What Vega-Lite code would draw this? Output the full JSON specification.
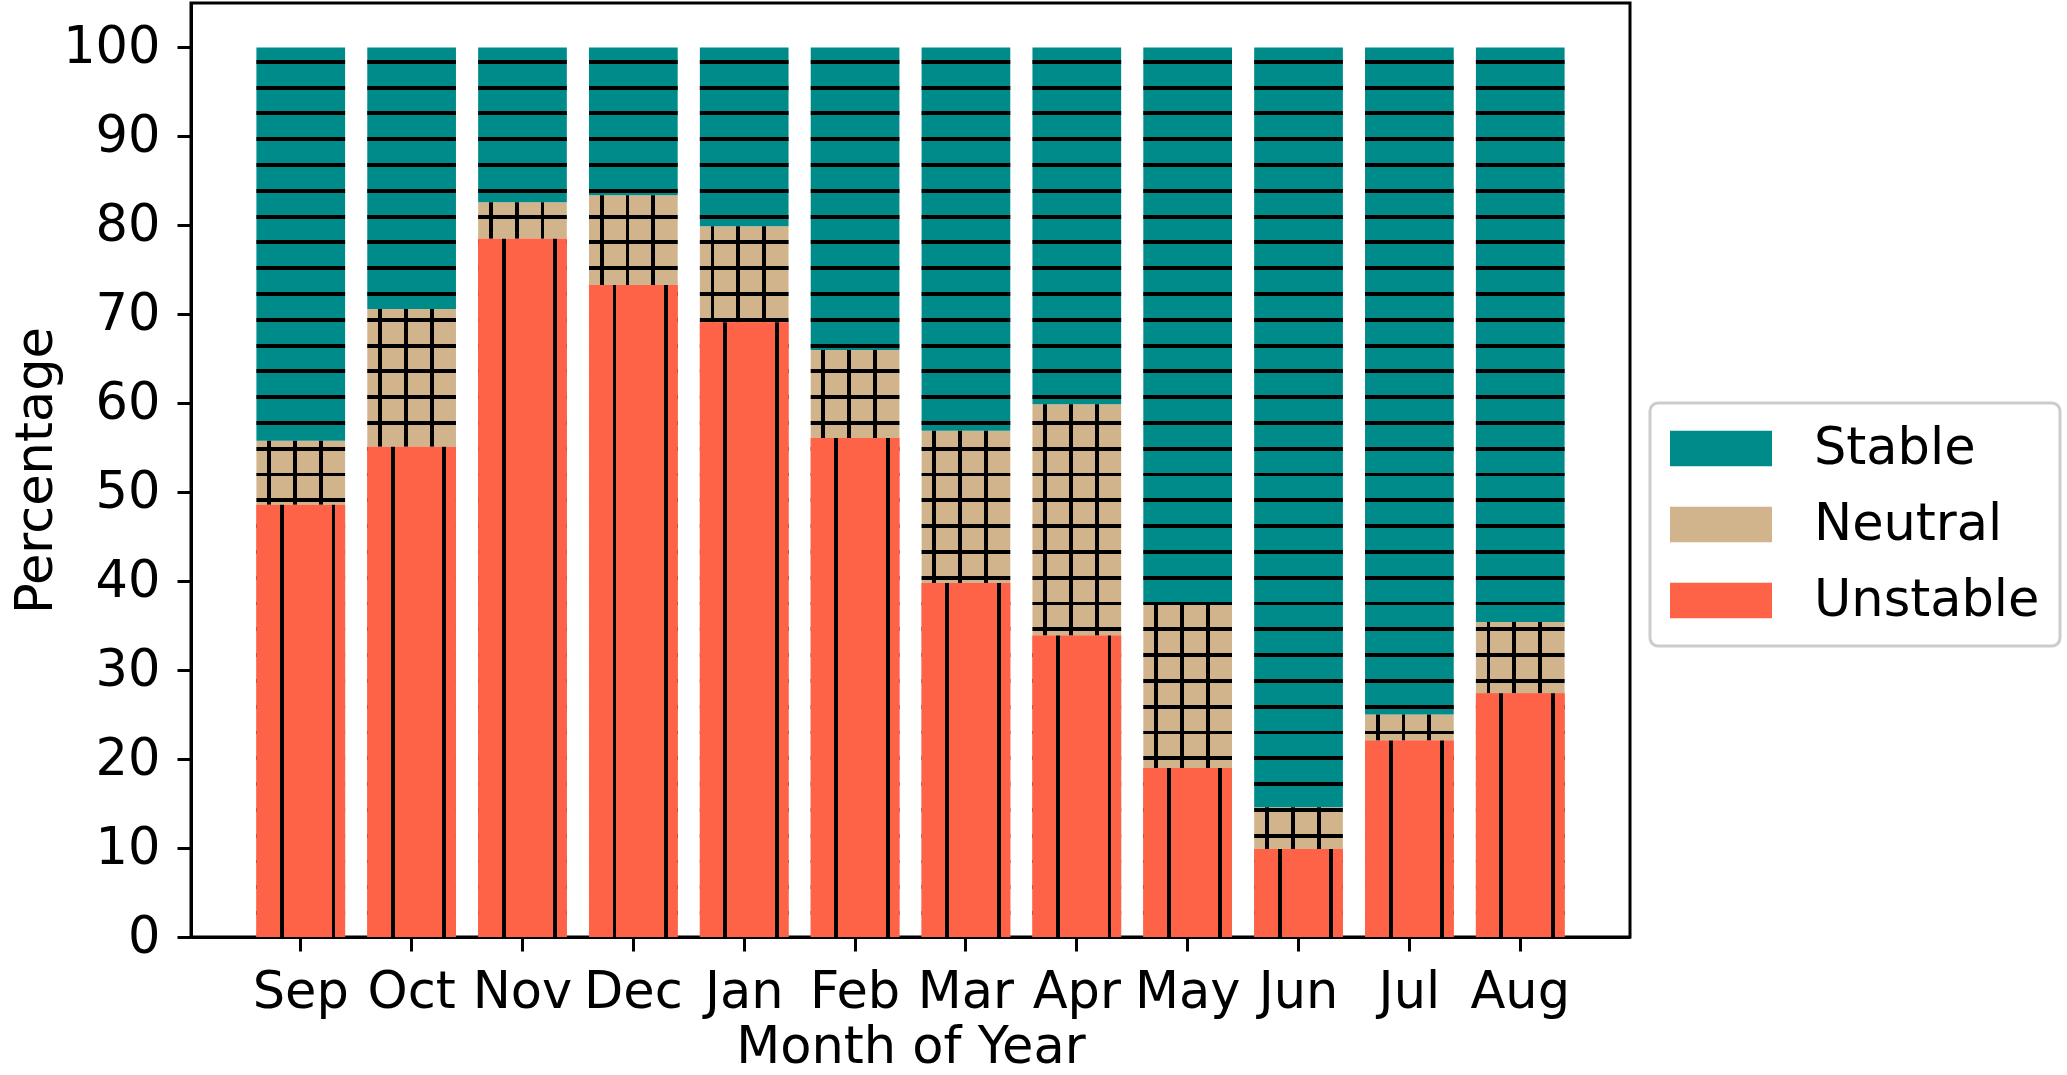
{
  "$schema": "https://vega.github.io/schema/vega-lite/v6.json",
  "width": 1439,
  "height": 934,
  "autosize": {"type": "none"},
  "padding": {"left": 191, "top": 3, "right": 437, "bottom": 138},
  "background": "white",
  "data": {
    "values": [
      {"month": "Sep", "category": "Unstable", "order": 1, "pct": 48.6},
      {"month": "Sep", "category": "Neutral", "order": 2, "pct": 7.2},
      {"month": "Sep", "category": "Stable", "order": 3, "pct": 44.2},
      {"month": "Oct", "category": "Unstable", "order": 1, "pct": 55.1},
      {"month": "Oct", "category": "Neutral", "order": 2, "pct": 15.5},
      {"month": "Oct", "category": "Stable", "order": 3, "pct": 29.4},
      {"month": "Nov", "category": "Unstable", "order": 1, "pct": 78.5},
      {"month": "Nov", "category": "Neutral", "order": 2, "pct": 4.1},
      {"month": "Nov", "category": "Stable", "order": 3, "pct": 17.4},
      {"month": "Dec", "category": "Unstable", "order": 1, "pct": 73.3},
      {"month": "Dec", "category": "Neutral", "order": 2, "pct": 10.1},
      {"month": "Dec", "category": "Stable", "order": 3, "pct": 16.6},
      {"month": "Jan", "category": "Unstable", "order": 1, "pct": 69.1},
      {"month": "Jan", "category": "Neutral", "order": 2, "pct": 10.8},
      {"month": "Jan", "category": "Stable", "order": 3, "pct": 20.1},
      {"month": "Feb", "category": "Unstable", "order": 1, "pct": 56.1},
      {"month": "Feb", "category": "Neutral", "order": 2, "pct": 9.9},
      {"month": "Feb", "category": "Stable", "order": 3, "pct": 34.0},
      {"month": "Mar", "category": "Unstable", "order": 1, "pct": 39.8},
      {"month": "Mar", "category": "Neutral", "order": 2, "pct": 17.1},
      {"month": "Mar", "category": "Stable", "order": 3, "pct": 43.1},
      {"month": "Apr", "category": "Unstable", "order": 1, "pct": 33.9},
      {"month": "Apr", "category": "Neutral", "order": 2, "pct": 26.0},
      {"month": "Apr", "category": "Stable", "order": 3, "pct": 40.1},
      {"month": "May", "category": "Unstable", "order": 1, "pct": 19.0},
      {"month": "May", "category": "Neutral", "order": 2, "pct": 18.4},
      {"month": "May", "category": "Stable", "order": 3, "pct": 62.6},
      {"month": "Jun", "category": "Unstable", "order": 1, "pct": 9.9},
      {"month": "Jun", "category": "Neutral", "order": 2, "pct": 4.7},
      {"month": "Jun", "category": "Stable", "order": 3, "pct": 85.4},
      {"month": "Jul", "category": "Unstable", "order": 1, "pct": 22.1},
      {"month": "Jul", "category": "Neutral", "order": 2, "pct": 2.9},
      {"month": "Jul", "category": "Stable", "order": 3, "pct": 75.0},
      {"month": "Aug", "category": "Unstable", "order": 1, "pct": 27.4},
      {"month": "Aug", "category": "Neutral", "order": 2, "pct": 8.0},
      {"month": "Aug", "category": "Stable", "order": 3, "pct": 64.6}
    ]
  },
  "transform": [
    {"stack": "pct", "groupby": ["month"], "sort": [{"field": "order", "order": "ascending"}], "as": ["y0", "y1"]}
  ],
  "encoding": {
    "x": {
      "field": "month",
      "type": "nominal",
      "sort": ["Sep", "Oct", "Nov", "Dec", "Jan", "Feb", "Mar", "Apr", "May", "Jun", "Jul", "Aug"],
      "scale": {"paddingInner": 0.2, "paddingOuter": 0.59},
      "title": "Month of Year"
    }
  },
  "layer": [
    {
      "mark": {"type": "bar", "strokeWidth": 0},
      "encoding": {
        "y": {"field": "y1", "type": "quantitative", "scale": {"domain": [0, 105], "nice": false}, "title": "Percentage", "axis": {"values": [0, 10, 20, 30, 40, 50, 60, 70, 80, 90, 100]}},
        "y2": {"field": "y0"},
        "color": {
          "field": "category",
          "type": "nominal",
          "scale": {"domain": ["Stable", "Neutral", "Unstable"], "range": ["#008B8B", "#D2B48C", "#FF6347"]},
          "legend": {"title": null}
        }
      }
    },
    {
      "transform": [{"filter": "datum.category === 'Stable'"}],
      "mark": {
        "type": "bar",
        "strokeWidth": 0,
        "fill": {
          "gradient": "linear", "x1": 0, "y1": 0, "x2": 0, "y2": 1,
          "stops": [
            {"offset": 0, "color": "rgba(0,0,0,0)"},
            {"offset": 0.0139, "color": "rgba(0,0,0,0)"}, {"offset": 0.0139, "color": "#000"}, {"offset": 0.0183, "color": "#000"}, {"offset": 0.0183, "color": "rgba(0,0,0,0)"},
            {"offset": 0.0429, "color": "rgba(0,0,0,0)"}, {"offset": 0.0429, "color": "#000"}, {"offset": 0.0473, "color": "#000"}, {"offset": 0.0473, "color": "rgba(0,0,0,0)"},
            {"offset": 0.0719, "color": "rgba(0,0,0,0)"}, {"offset": 0.0719, "color": "#000"}, {"offset": 0.0763, "color": "#000"}, {"offset": 0.0763, "color": "rgba(0,0,0,0)"},
            {"offset": 0.1009, "color": "rgba(0,0,0,0)"}, {"offset": 0.1009, "color": "#000"}, {"offset": 0.1053, "color": "#000"}, {"offset": 0.1053, "color": "rgba(0,0,0,0)"},
            {"offset": 0.1299, "color": "rgba(0,0,0,0)"}, {"offset": 0.1299, "color": "#000"}, {"offset": 0.1343, "color": "#000"}, {"offset": 0.1343, "color": "rgba(0,0,0,0)"},
            {"offset": 0.1589, "color": "rgba(0,0,0,0)"}, {"offset": 0.1589, "color": "#000"}, {"offset": 0.1633, "color": "#000"}, {"offset": 0.1633, "color": "rgba(0,0,0,0)"},
            {"offset": 0.1879, "color": "rgba(0,0,0,0)"}, {"offset": 0.1879, "color": "#000"}, {"offset": 0.1923, "color": "#000"}, {"offset": 0.1923, "color": "rgba(0,0,0,0)"},
            {"offset": 0.2169, "color": "rgba(0,0,0,0)"}, {"offset": 0.2169, "color": "#000"}, {"offset": 0.2213, "color": "#000"}, {"offset": 0.2213, "color": "rgba(0,0,0,0)"},
            {"offset": 0.2459, "color": "rgba(0,0,0,0)"}, {"offset": 0.2459, "color": "#000"}, {"offset": 0.2503, "color": "#000"}, {"offset": 0.2503, "color": "rgba(0,0,0,0)"},
            {"offset": 0.2749, "color": "rgba(0,0,0,0)"}, {"offset": 0.2749, "color": "#000"}, {"offset": 0.2793, "color": "#000"}, {"offset": 0.2793, "color": "rgba(0,0,0,0)"},
            {"offset": 0.3039, "color": "rgba(0,0,0,0)"}, {"offset": 0.3039, "color": "#000"}, {"offset": 0.3083, "color": "#000"}, {"offset": 0.3083, "color": "rgba(0,0,0,0)"},
            {"offset": 0.3329, "color": "rgba(0,0,0,0)"}, {"offset": 0.3329, "color": "#000"}, {"offset": 0.3373, "color": "#000"}, {"offset": 0.3373, "color": "rgba(0,0,0,0)"},
            {"offset": 0.3619, "color": "rgba(0,0,0,0)"}, {"offset": 0.3619, "color": "#000"}, {"offset": 0.3663, "color": "#000"}, {"offset": 0.3663, "color": "rgba(0,0,0,0)"},
            {"offset": 0.3909, "color": "rgba(0,0,0,0)"}, {"offset": 0.3909, "color": "#000"}, {"offset": 0.3953, "color": "#000"}, {"offset": 0.3953, "color": "rgba(0,0,0,0)"},
            {"offset": 0.4199, "color": "rgba(0,0,0,0)"}, {"offset": 0.4199, "color": "#000"}, {"offset": 0.4243, "color": "#000"}, {"offset": 0.4243, "color": "rgba(0,0,0,0)"},
            {"offset": 0.4489, "color": "rgba(0,0,0,0)"}, {"offset": 0.4489, "color": "#000"}, {"offset": 0.4533, "color": "#000"}, {"offset": 0.4533, "color": "rgba(0,0,0,0)"},
            {"offset": 0.4779, "color": "rgba(0,0,0,0)"}, {"offset": 0.4779, "color": "#000"}, {"offset": 0.4823, "color": "#000"}, {"offset": 0.4823, "color": "rgba(0,0,0,0)"},
            {"offset": 0.5069, "color": "rgba(0,0,0,0)"}, {"offset": 0.5069, "color": "#000"}, {"offset": 0.5113, "color": "#000"}, {"offset": 0.5113, "color": "rgba(0,0,0,0)"},
            {"offset": 0.5359, "color": "rgba(0,0,0,0)"}, {"offset": 0.5359, "color": "#000"}, {"offset": 0.5403, "color": "#000"}, {"offset": 0.5403, "color": "rgba(0,0,0,0)"},
            {"offset": 0.5649, "color": "rgba(0,0,0,0)"}, {"offset": 0.5649, "color": "#000"}, {"offset": 0.5693, "color": "#000"}, {"offset": 0.5693, "color": "rgba(0,0,0,0)"},
            {"offset": 0.5939, "color": "rgba(0,0,0,0)"}, {"offset": 0.5939, "color": "#000"}, {"offset": 0.5983, "color": "#000"}, {"offset": 0.5983, "color": "rgba(0,0,0,0)"},
            {"offset": 0.6229, "color": "rgba(0,0,0,0)"}, {"offset": 0.6229, "color": "#000"}, {"offset": 0.6273, "color": "#000"}, {"offset": 0.6273, "color": "rgba(0,0,0,0)"},
            {"offset": 0.6519, "color": "rgba(0,0,0,0)"}, {"offset": 0.6519, "color": "#000"}, {"offset": 0.6563, "color": "#000"}, {"offset": 0.6563, "color": "rgba(0,0,0,0)"},
            {"offset": 0.6809, "color": "rgba(0,0,0,0)"}, {"offset": 0.6809, "color": "#000"}, {"offset": 0.6853, "color": "#000"}, {"offset": 0.6853, "color": "rgba(0,0,0,0)"},
            {"offset": 0.7099, "color": "rgba(0,0,0,0)"}, {"offset": 0.7099, "color": "#000"}, {"offset": 0.7143, "color": "#000"}, {"offset": 0.7143, "color": "rgba(0,0,0,0)"},
            {"offset": 0.7389, "color": "rgba(0,0,0,0)"}, {"offset": 0.7389, "color": "#000"}, {"offset": 0.7433, "color": "#000"}, {"offset": 0.7433, "color": "rgba(0,0,0,0)"},
            {"offset": 0.7679, "color": "rgba(0,0,0,0)"}, {"offset": 0.7679, "color": "#000"}, {"offset": 0.7723, "color": "#000"}, {"offset": 0.7723, "color": "rgba(0,0,0,0)"},
            {"offset": 0.7969, "color": "rgba(0,0,0,0)"}, {"offset": 0.7969, "color": "#000"}, {"offset": 0.8013, "color": "#000"}, {"offset": 0.8013, "color": "rgba(0,0,0,0)"},
            {"offset": 0.8259, "color": "rgba(0,0,0,0)"}, {"offset": 0.8259, "color": "#000"}, {"offset": 0.8303, "color": "#000"}, {"offset": 0.8303, "color": "rgba(0,0,0,0)"},
            {"offset": 0.8549, "color": "rgba(0,0,0,0)"}, {"offset": 0.8549, "color": "#000"}, {"offset": 0.8593, "color": "#000"}, {"offset": 0.8593, "color": "rgba(0,0,0,0)"},
            {"offset": 0.8839, "color": "rgba(0,0,0,0)"}, {"offset": 0.8839, "color": "#000"}, {"offset": 0.8883, "color": "#000"}, {"offset": 0.8883, "color": "rgba(0,0,0,0)"},
            {"offset": 0.9129, "color": "rgba(0,0,0,0)"}, {"offset": 0.9129, "color": "#000"}, {"offset": 0.9173, "color": "#000"}, {"offset": 0.9173, "color": "rgba(0,0,0,0)"},
            {"offset": 0.9419, "color": "rgba(0,0,0,0)"}, {"offset": 0.9419, "color": "#000"}, {"offset": 0.9463, "color": "#000"}, {"offset": 0.9463, "color": "rgba(0,0,0,0)"},
            {"offset": 0.9709, "color": "rgba(0,0,0,0)"}, {"offset": 0.9709, "color": "#000"}, {"offset": 0.9753, "color": "#000"}, {"offset": 0.9753, "color": "rgba(0,0,0,0)"},
            {"offset": 1, "color": "rgba(0,0,0,0)"}
          ]
        }
      },
      "encoding": {
        "y": {"field": "y1", "type": "quantitative", "scale": {"domain": [0, 105], "nice": false}, "title": "Percentage"},
        "y2": {"datum": 0}
      }
    },
    {
      "transform": [{"filter": "datum.category === 'Neutral'"}],
      "mark": {
        "type": "bar",
        "strokeWidth": 0,
        "fill": {
          "gradient": "linear", "x1": 0, "y1": 0, "x2": 1, "y2": 0,
          "stops": [
            {"offset": 0, "color": "rgba(0,0,0,0)"},
            {"offset": 0.12, "color": "rgba(0,0,0,0)"}, {"offset": 0.12, "color": "#000"}, {"offset": 0.164, "color": "#000"}, {"offset": 0.164, "color": "rgba(0,0,0,0)"},
            {"offset": 0.412, "color": "rgba(0,0,0,0)"}, {"offset": 0.412, "color": "#000"}, {"offset": 0.456, "color": "#000"}, {"offset": 0.456, "color": "rgba(0,0,0,0)"},
            {"offset": 0.704, "color": "rgba(0,0,0,0)"}, {"offset": 0.704, "color": "#000"}, {"offset": 0.748, "color": "#000"}, {"offset": 0.748, "color": "rgba(0,0,0,0)"},
            {"offset": 1, "color": "rgba(0,0,0,0)"}
          ]
        }
      },
      "encoding": {
        "y": {"field": "y1", "type": "quantitative", "scale": {"domain": [0, 105], "nice": false}, "title": "Percentage"},
        "y2": {"field": "y0"}
      }
    },
    {
      "transform": [{"filter": "datum.category === 'Unstable'"}],
      "mark": {
        "type": "bar",
        "strokeWidth": 0,
        "fill": {
          "gradient": "linear", "x1": 0, "y1": 0, "x2": 1, "y2": 0,
          "stops": [
            {"offset": 0, "color": "#FF6347"},
            {"offset": 0.266, "color": "#FF6347"}, {"offset": 0.266, "color": "#000"}, {"offset": 0.31, "color": "#000"}, {"offset": 0.31, "color": "#FF6347"},
            {"offset": 0.847, "color": "#FF6347"}, {"offset": 0.847, "color": "#000"}, {"offset": 0.891, "color": "#000"}, {"offset": 0.891, "color": "#FF6347"},
            {"offset": 1, "color": "#FF6347"}
          ]
        }
      },
      "encoding": {
        "y": {"field": "y1", "type": "quantitative", "scale": {"domain": [0, 105], "nice": false}, "title": "Percentage"},
        "y2": {"field": "y0"}
      }
    }
  ],
  "config": {
    "font": "DejaVu Sans",
    "view": {"stroke": "#000", "strokeWidth": 3},
    "axis": {
      "labelFont": "DejaVu Sans",
      "titleFont": "DejaVu Sans",
      "labelFontSize": 51,
      "titleFontSize": 51,
      "titleFontWeight": "normal",
      "labelColor": "#000",
      "titleColor": "#000",
      "domainColor": "#000",
      "domainWidth": 3,
      "tickColor": "#000",
      "tickWidth": 3,
      "tickSize": 14,
      "grid": false,
      "labelPadding": 16,
      "titlePadding": 5
    },
    "axisX": {"labelAngle": 0},
    "axisY": {"labelPadding": 17, "titlePadding": 0},
    "legend": {
      "orient": "none",
      "legendX": 1459,
      "legendY": 400,
      "padding": 20,
      "fillColor": "#ffffff",
      "strokeColor": "#cccccc",
      "strokeWidth": 3,
      "cornerRadius": 8,
      "labelFont": "DejaVu Sans",
      "labelFontSize": 51,
      "labelColor": "#000",
      "labelLimit": 400,
      "symbolType": "M-1,-0.7L3,-0.7L3,0.7L-1,0.7Z",
      "symbolSize": 2601,
      "symbolStrokeWidth": 0,
      "symbolOpacity": 1,
      "labelOffset": 93,
      "rowPadding": 24
    }
  }
}
